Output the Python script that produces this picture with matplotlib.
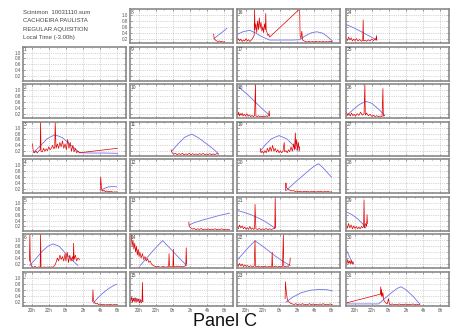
import matplotlib
matplotlib.use('Agg')
import matplotlib.pyplot as plt

# hours: 19 .. 31  (24 = 0h local)
xticks = [20, 22, 24, 26, 28, 30]
xlabels = ['20h', '22h', '0h', '2h', '4h', '6h']
yticks = [0.2, 0.4, 0.6, 0.8, 1.0]
header = ['Scintmon  10031110.sum', 'CACHOEIRA PAULISTA', 'REGULAR AQUISITION', 'Local Time (-3.00h)']

# ---- day 3
blue_t_3 = [20.2, 21.0, 21.8, 22.7, 23.6, 24.6, 25.6, 27.0, 28.5, 30.0]
blue_v_3 = [0.15, 0.38, 0.62, 0.76, 0.66, 0.40, 0.15, 0.14, 0.14, 0.13]
red_t_3 = [20.1, 20.2, 20.35, 20.5, 20.65, 20.8, 21.0, 21.05, 21.1, 21.25, 21.4, 21.55, 21.7, 21.85, 22.0,
           22.15, 22.3, 22.45, 22.6, 22.7, 22.75, 22.85, 23.0, 23.15, 23.3, 23.45, 23.6, 23.75, 23.9, 24.05,
           24.2, 24.35, 24.5, 24.65, 24.8, 24.95, 25.1, 25.25, 25.4, 25.6, 30.0]
red_v_3 = [0.45, 0.2, 0.15, 0.22, 0.14, 0.2, 0.25, 1.2, 0.2, 0.18, 0.3, 0.2, 0.28, 0.22, 0.35,
           0.25, 0.3, 0.4, 0.28, 0.35, 1.2, 0.3, 0.45, 0.3, 0.5, 0.35, 0.55, 0.3, 0.45, 0.25,
           0.6, 0.3, 0.5, 0.2, 0.4, 0.18, 0.3, 0.15, 0.2, 0.15, 0.3]
# ---- day 4
blue_t_4 = [28.1, 28.5, 29.0, 29.5, 29.9]
blue_v_4 = [0.15, 0.22, 0.27, 0.28, 0.27]
red_t_4 = [28.0, 28.05, 28.15, 28.3, 28.45, 28.6, 28.75, 28.9, 29.05, 29.2, 29.35, 29.5, 29.65, 29.8, 29.9]
red_v_4 = [0.15, 0.6, 0.2, 0.12, 0.15, 0.1, 0.13, 0.09, 0.12, 0.1, 0.11, 0.08, 0.1, 0.09, 0.1]
# ---- day 6
blue_t_6 = [19.8, 20.5, 21.2, 21.9, 22.5, 23.2, 23.9, 24.6, 25.4]
blue_v_6 = [0.15, 0.38, 0.62, 0.80, 0.88, 0.80, 0.58, 0.36, 0.15]
red_t_6 = [19.75, 19.8, 19.85, 20.0, 20.2, 20.4, 20.6, 20.8, 21.0, 21.05, 21.1, 21.3, 21.5, 21.7, 21.9,
           22.1, 22.3, 22.5, 22.7, 22.85, 23.0, 23.15, 23.3, 23.45, 23.6, 23.75, 23.9, 24.0, 24.15, 24.3,
           24.45, 24.6, 24.75, 24.85, 24.9, 24.95, 25.1, 25.25, 25.4, 25.6]
red_v_6 = [0.3, 1.2, 0.3, 0.12, 0.08, 0.12, 0.08, 0.1, 0.09, 1.2, 0.1, 0.08, 0.1, 0.08, 0.1,
           0.08, 0.1, 0.09, 0.15, 0.25, 0.4, 0.3, 0.5, 0.35, 0.45, 0.3, 0.55, 0.3, 0.6, 0.25,
           0.5, 0.3, 0.45, 0.3, 0.9, 0.35, 0.5, 0.3, 0.4, 0.35]
# ---- day 7
blue_t_7 = [27.2, 27.7, 28.2, 28.7, 29.2, 29.6, 29.9]
blue_v_7 = [0.15, 0.32, 0.46, 0.58, 0.68, 0.75, 0.78]
red_t_7 = [27.1, 27.15, 27.2, 27.35, 27.5, 27.65, 27.8, 28.0, 28.2, 28.4, 28.6, 28.8, 29.0, 29.2, 29.4, 29.6, 29.8, 29.95]
red_v_7 = [0.2, 0.6, 0.25, 0.15, 0.12, 0.14, 0.1, 0.12, 0.09, 0.11, 0.08, 0.1, 0.09, 0.11, 0.08, 0.1, 0.09, 0.1]
# ---- day 8
blue_t_8 = [28.8, 29.3, 29.8, 30.3]
blue_v_8 = [0.2, 0.32, 0.43, 0.55]
red_t_8 = [28.75, 28.8, 28.95, 29.1, 29.25, 29.4, 29.55, 29.7, 29.85, 30.0]
red_v_8 = [0.35, 0.2, 0.15, 0.12, 0.1, 0.12, 0.09, 0.1, 0.08, 0.1]
# ---- day 11
blue_t_11 = [23.85, 24.6, 25.4, 26.2, 27.0, 27.8, 28.6, 29.3]
blue_v_11 = [0.2, 0.45, 0.68, 0.78, 0.65, 0.48, 0.3, 0.12]
red_t_11 = [23.8, 23.9, 24.1, 24.3, 24.5, 24.7, 24.9, 25.1, 25.3, 25.5, 25.7, 25.9, 26.1, 26.3, 26.5, 26.7,
            26.9, 27.1, 27.3, 27.5, 27.7, 27.9, 28.1, 28.3, 28.5, 28.7, 28.9, 29.1, 29.3]
red_v_11 = [0.25, 0.15, 0.1, 0.13, 0.08, 0.12, 0.09, 0.13, 0.08, 0.11, 0.09, 0.13, 0.08, 0.12, 0.09, 0.11,
            0.08, 0.12, 0.09, 0.13, 0.08, 0.11, 0.09, 0.12, 0.08, 0.11, 0.09, 0.12, 0.1]
# ---- day 13
blue_t_13 = [25.9, 26.5, 27.5, 28.5, 29.5, 30.6]
blue_v_13 = [0.25, 0.33, 0.42, 0.5, 0.58, 0.65]
red_t_13 = [25.85, 25.9, 26.1, 26.3, 26.5, 26.7, 26.9, 27.1, 27.3, 27.5, 27.7, 27.9, 28.1, 28.3, 28.5,
            28.7, 28.9, 29.1, 29.3, 29.5, 29.7, 29.9, 30.1, 30.3, 30.6]
red_v_13 = [0.35, 0.2, 0.15, 0.11, 0.13, 0.09, 0.12, 0.1, 0.13, 0.09, 0.11, 0.1, 0.12, 0.09, 0.11,
            0.1, 0.12, 0.09, 0.11, 0.1, 0.12, 0.09, 0.11, 0.1, 0.1]
# ---- day 14
blue_t_14 = [20.2, 21.0, 21.9, 22.8, 23.7, 24.6, 25.6]
blue_v_14 = [0.15, 0.42, 0.72, 0.99, 0.72, 0.44, 0.15]
red_t_14 = [19.15, 19.25, 19.35, 19.45, 19.55, 19.65, 19.75, 19.85, 19.95, 20.05, 20.15, 20.3, 20.45, 20.6,
            20.75, 20.9, 21.05, 21.2, 21.35, 21.5, 21.7, 21.9, 22.1, 22.3, 22.5, 22.7, 22.9, 23.1, 23.3,
            23.5, 23.55, 23.6, 23.8, 24.0, 24.05, 24.1, 24.3, 24.5, 24.7, 24.9, 25.1, 25.3, 25.5, 25.55, 25.6]
red_v_14 = [1.2, 0.8, 1.0, 0.7, 0.9, 0.6, 0.8, 0.5, 0.7, 0.45, 0.6, 0.4, 0.55, 0.35,
            0.45, 0.3, 0.38, 0.25, 0.3, 0.2, 0.15, 0.12, 0.1, 0.12, 0.09, 0.1, 0.12, 0.09, 0.1,
            0.12, 0.55, 0.12, 0.1, 0.12, 0.7, 0.12, 0.1, 0.13, 0.1, 0.12, 0.1, 0.12, 0.14, 0.75, 0.2]
# ---- day 15
blue_t_15 = [19.0, 19.5, 20.0, 20.3, 20.5]
blue_v_15 = [0.3, 0.3, 0.28, 0.25, 0.2]
red_t_15 = [19.0, 19.1, 19.2, 19.3, 19.4, 19.5, 19.6, 19.7, 19.8, 19.9, 20.0, 20.1, 20.2, 20.3, 20.4, 20.45, 20.5]
red_v_15 = [0.3, 0.2, 0.35, 0.18, 0.3, 0.2, 0.33, 0.17, 0.3, 0.2, 0.28, 0.15, 0.25, 0.15, 0.2, 0.85, 0.2]
# ---- day 16
blue_t_16 = [19.0, 19.7, 20.5, 21.2, 22.0, 22.8, 24.0, 25.5, 26.3, 27.0, 27.7, 28.3, 29.0, 29.6, 30.1]
blue_v_16 = [0.34, 0.43, 0.48, 0.38, 0.25, 0.15, 0.15, 0.15, 0.16, 0.3, 0.4, 0.43, 0.38, 0.25, 0.12]
red_t_16 = [19.0, 19.15, 19.3, 19.45, 19.6, 19.75, 19.9, 20.05, 20.2, 20.35, 20.5, 20.65, 20.8, 21.0, 21.05,
            21.1, 21.2, 21.3, 21.4, 21.5, 21.6, 21.7, 21.8, 21.9, 22.0, 22.1, 22.2, 22.3, 22.35, 22.4, 22.5,
            22.6, 22.7, 22.8, 26.3, 26.35, 26.45, 26.55, 26.65, 26.8, 27.0, 27.2, 27.4, 27.6, 27.8, 28.0,
            28.2, 28.4, 28.6, 28.8, 29.0, 29.2, 29.4, 29.6, 29.8, 30.1]
red_v_16 = [0.15, 0.2, 0.12, 0.18, 0.1, 0.15, 0.12, 0.2, 0.12, 0.16, 0.1, 0.14, 0.2, 0.3, 1.2,
            0.5, 0.7, 0.4, 0.8, 0.5, 0.9, 0.55, 0.75, 0.45, 0.6, 0.4, 0.7, 0.5, 1.05, 0.5, 0.4,
            0.3, 0.35, 0.25, 1.2, 0.3, 0.2, 0.45, 0.15, 0.12, 0.1, 0.08, 0.11, 0.08, 0.1, 0.08,
            0.11, 0.08, 0.1, 0.08, 0.11, 0.08, 0.1, 0.08, 0.11, 0.09]
# ---- day 18
blue_t_18 = [19.1, 19.6, 20.1, 20.6, 21.1, 21.6, 22.1, 22.5, 22.8]
blue_v_18 = [1.12, 1.0, 0.88, 0.74, 0.6, 0.46, 0.32, 0.22, 0.15]
red_t_18 = [19.0, 19.1, 19.2, 19.3, 19.4, 19.5, 19.6, 19.7, 19.85, 20.0, 20.15, 20.3, 20.45, 20.6, 20.75,
            20.9, 21.05, 21.15, 21.2, 21.35, 21.5, 21.65, 21.8, 21.95, 22.1, 22.25, 22.4, 22.55, 22.7, 22.75, 22.8]
red_v_18 = [0.2, 0.15, 0.25, 0.12, 0.2, 0.15, 0.22, 0.12, 0.18, 0.12, 0.2, 0.11, 0.16, 0.1, 0.14,
            0.1, 0.13, 1.2, 0.12, 0.1, 0.13, 0.1, 0.12, 0.09, 0.12, 0.1, 0.13, 0.1, 0.15, 0.3, 0.12]
# ---- day 19
blue_t_19 = [21.7, 22.3, 23.0, 23.9, 24.8, 25.5, 26.1]
blue_v_19 = [0.2, 0.42, 0.62, 0.73, 0.62, 0.42, 0.2]
red_t_19 = [21.7, 21.8, 21.95, 22.1, 22.25, 22.4, 22.55, 22.7, 22.85, 23.0, 23.15, 23.3, 23.45, 23.6, 23.75,
            23.9, 24.05, 24.2, 24.35, 24.5, 24.55, 24.7, 24.85, 25.0, 25.15, 25.3, 25.45, 25.6, 25.7, 25.8,
            25.85, 25.95, 26.05, 26.15, 26.25, 26.3]
red_v_19 = [0.3, 0.15, 0.2, 0.13, 0.22, 0.15, 0.3, 0.18, 0.35, 0.2, 0.4, 0.2, 0.3, 0.17, 0.25,
            0.15, 0.22, 0.15, 0.2, 0.5, 0.18, 0.22, 0.15, 0.25, 0.18, 0.35, 0.2, 0.45, 0.25, 0.82,
            0.3, 0.6, 0.25, 0.5, 0.2, 0.35]
# ---- day 20
blue_t_20 = [24.7, 25.3, 26.0, 26.8, 27.6, 28.1, 28.5, 29.0, 29.5, 30.0]
blue_v_20 = [0.14, 0.3, 0.48, 0.68, 0.88, 0.99, 1.05, 0.92, 0.76, 0.6]
red_t_20 = [24.65, 24.7, 24.75, 24.9, 25.05, 25.2, 25.4, 25.6, 25.8, 26.0, 26.2, 26.4, 26.6, 26.8, 27.0,
            27.2, 27.4, 27.6, 27.8, 28.0, 28.2, 28.4, 28.6, 28.8, 29.0, 29.2, 29.4, 29.6, 29.8, 30.0]
red_v_20 = [0.15, 0.4, 0.25, 0.2, 0.17, 0.15, 0.13, 0.14, 0.11, 0.13, 0.1, 0.12, 0.09, 0.12, 0.1,
            0.12, 0.09, 0.11, 0.1, 0.12, 0.09, 0.11, 0.1, 0.12, 0.09, 0.11, 0.1, 0.12, 0.09, 0.1]
# ---- day 21
blue_t_21 = [19.0, 19.8, 20.6, 21.4, 22.2, 22.9, 23.4]
blue_v_21 = [0.74, 0.68, 0.6, 0.5, 0.38, 0.25, 0.15]
red_t_21 = [19.0, 19.15, 19.3, 19.45, 19.6, 19.75, 19.9, 20.05, 20.2, 20.35, 20.5, 20.65, 20.8, 20.95, 21.05,
            21.1, 21.2, 21.4, 21.6, 21.8, 22.0, 22.2, 22.4, 22.6, 22.8, 23.0, 23.2, 23.4, 23.45, 23.5]
red_v_21 = [0.2, 0.12, 0.25, 0.15, 0.22, 0.12, 0.18, 0.11, 0.16, 0.1, 0.2, 0.1, 0.15, 0.1, 0.13,
            0.95, 0.12, 0.1, 0.13, 0.09, 0.12, 0.1, 0.13, 0.09, 0.12, 0.1, 0.12, 0.13, 1.2, 0.15]
# ---- day 22
blue_t_22 = [19.0, 19.7, 20.4, 21.1, 21.9, 22.7, 23.5, 24.4, 25.2]
blue_v_22 = [0.33, 0.55, 0.78, 0.98, 0.82, 0.64, 0.46, 0.28, 0.15]
red_t_22 = [19.0, 19.15, 19.3, 19.45, 19.6, 19.75, 19.9, 20.05, 20.2, 20.4, 20.6, 20.8, 21.0, 21.1, 21.15,
            21.3, 21.5, 21.7, 21.9, 22.1, 22.3, 22.5, 22.7, 22.9, 23.05, 23.1, 23.15, 23.3, 23.5, 23.7,
            23.9, 24.1, 24.3, 24.4, 24.45, 24.6, 24.8, 25.0, 25.15, 25.2]
red_v_22 = [0.2, 0.12, 0.22, 0.13, 0.2, 0.11, 0.17, 0.12, 0.15, 0.1, 0.14, 0.1, 0.13, 1.0, 0.12,
            0.1, 0.13, 0.09, 0.12, 0.1, 0.13, 0.09, 0.12, 0.1, 0.12, 0.6, 0.11, 0.1, 0.13, 0.09,
            0.12, 0.1, 0.12, 1.2, 0.12, 0.1, 0.13, 0.12, 0.2, 0.4]
# ---- day 23
blue_t_23 = [24.7, 25.5, 26.5, 27.5, 28.5, 29.5, 30.1]
blue_v_23 = [0.18, 0.35, 0.5, 0.58, 0.61, 0.6, 0.56]
red_t_23 = [24.6, 24.65, 24.75, 24.85, 24.95, 25.1, 25.25, 25.45, 25.65, 25.85, 26.05, 26.25, 26.45, 26.65,
            26.85, 27.05, 27.25, 27.45, 27.65, 27.85, 28.05, 28.25, 28.45, 28.65, 28.85, 29.05, 29.25,
            29.45, 29.65, 29.85, 30.1]
red_v_23 = [0.3, 0.87, 0.5, 0.3, 0.2, 0.18, 0.14, 0.12, 0.1, 0.13, 0.09, 0.12, 0.1, 0.13,
            0.09, 0.11, 0.1, 0.13, 0.09, 0.12, 0.1, 0.11, 0.08, 0.12, 0.1, 0.13, 0.09, 0.11, 0.1, 0.12, 0.1]
# ---- day 24
blue_t_24 = [19.0, 20.0, 21.0, 22.0, 22.5]
blue_v_24 = [0.68, 0.55, 0.4, 0.24, 0.15]
red_t_24 = [19.0, 19.15, 19.3, 19.45, 19.6, 19.75, 19.9, 20.05, 20.2, 20.4, 20.6, 20.8, 20.95, 21.0, 21.05,
            21.2, 21.4, 21.6, 21.8, 22.0, 22.2, 22.4, 22.5, 22.55, 22.6]
red_v_24 = [0.2, 0.13, 0.25, 0.15, 0.22, 0.12, 0.18, 0.13, 0.2, 0.12, 0.17, 0.11, 0.15, 0.83, 0.12,
            0.14, 0.11, 0.16, 0.12, 0.18, 0.13, 0.2, 0.15, 0.3, 0.15]
# ---- day 26
blue_t_26 = [19.1, 19.7, 20.5, 21.3, 22.0, 22.8, 23.5]
blue_v_26 = [0.15, 0.3, 0.5, 0.62, 0.55, 0.35, 0.15]
red_t_26 = [19.05, 19.2, 19.35, 19.5, 19.65, 19.8, 19.95, 20.1, 20.3, 20.5, 20.7, 20.9, 21.1, 21.2, 21.25,
            21.4, 21.6, 21.8, 22.0, 22.2, 22.4, 22.6, 22.8, 23.0, 23.2, 23.3, 23.35, 23.5]
red_v_26 = [0.25, 0.14, 0.2, 0.12, 0.22, 0.13, 0.18, 0.12, 0.2, 0.14, 0.25, 0.15, 0.2, 1.2, 0.15,
            0.22, 0.13, 0.18, 0.11, 0.15, 0.1, 0.13, 0.1, 0.12, 0.1, 1.05, 0.12, 0.13]
# ---- day 29
blue_t_29 = [19.0, 19.7, 20.4, 21.0, 21.3]
blue_v_29 = [0.7, 0.6, 0.45, 0.27, 0.15]
red_t_29 = [19.0, 19.15, 19.3, 19.45, 19.6, 19.75, 19.9, 20.05, 20.2, 20.35, 20.5, 20.65, 20.8, 20.95, 21.05,
            21.1, 21.15, 21.3, 21.4, 21.45, 21.5]
red_v_29 = [0.25, 0.14, 0.3, 0.15, 0.25, 0.12, 0.22, 0.13, 0.2, 0.12, 0.18, 0.12, 0.2, 0.15, 0.2,
            1.1, 0.15, 0.3, 0.2, 0.6, 0.3]
# ---- day 30
blue_t_30 = [19.0, 19.4, 19.8]
blue_v_30 = [0.7, 0.45, 0.2]
red_t_30 = [19.0, 19.1, 19.2, 19.3, 19.4, 19.5, 19.6, 19.7, 19.8, 19.9]
red_v_30 = [0.3, 0.2, 0.35, 0.22, 0.3, 0.2, 0.33, 0.2, 0.28, 0.2]
# ---- day 31
blue_t_31 = [19.0, 21.0, 22.8, 23.5, 24.3, 25.0, 25.4, 26.0, 26.8, 27.6]
blue_v_31 = [0.12, 0.12, 0.12, 0.3, 0.5, 0.65, 0.7, 0.6, 0.38, 0.12]
red_t_31 = [19.0, 23.0, 23.05, 23.1, 23.15, 23.2, 23.3, 23.4, 23.5, 23.65, 23.8, 23.95, 24.05, 24.2, 24.4,
            24.6, 24.8, 25.0, 25.2, 25.4, 25.6, 25.8, 26.0, 26.2, 26.4, 26.6, 26.8, 27.0, 27.2, 27.4, 27.6]
red_v_31 = [0.15, 0.45, 0.7, 0.4, 0.6, 0.35, 0.5, 0.25, 0.2, 0.15, 0.12, 0.3, 0.12, 0.1, 0.12,
            0.09, 0.11, 0.1, 0.12, 0.09, 0.11, 0.1, 0.12, 0.09, 0.11, 0.1, 0.12, 0.09, 0.11, 0.1, 0.1]

W, H = 450, 331
fig = plt.figure(figsize=(W / 100, H / 100), dpi=100)
plt.rcParams['font.family'] = ['Liberation Sans', 'DejaVu Sans']

col_left = [23, 130, 237, 346]
row_top = [9, 46.6, 84.1, 121.7, 159.3, 196.9, 234.4, 272]
pw, ph = 103, 34

for day in range(1, 32):
    if day <= 7:
        col, row = 0, day
    else:
        col, row = (day - 8) // 8 + 1, (day - 8) % 8
    x0 = col_left[col] / W
    y0 = 1 - (row_top[row] + ph) / H
    ax = fig.add_axes([x0, y0, pw / W, ph / H])
    ax.set_xlim(19, 31)
    ax.set_ylim(0.05, 1.2)
    ax.set_xticks(xticks)
    ax.set_xticks(range(19, 32), minor=True)
    ax.set_yticks(yticks)
    ax.grid(True, which='major', color='#b0b0b0', linestyle=':', linewidth=0.5)
    ax.tick_params(which='both', direction='in', top=True, right=True, length=1.5, width=0.4,
                   labelsize=3.3, pad=1.5, colors='#555555')
    ax.tick_params(which='minor', length=1)
    if row == 7:
        ax.set_xticklabels(xlabels)
    else:
        ax.set_xticklabels([])
    if col == 0 or (col == 1 and row == 0):
        ax.set_yticklabels(['0.2', '0.4', '0.6', '0.8', '1.0'])
    else:
        ax.set_yticklabels([])
    for s in ax.spines.values():
        s.set_color('#8a8a8a')
        s.set_linewidth(1.2)
    ax.text(0.01, 0.98, str(day), transform=ax.transAxes, ha='left', va='top', fontsize=3.5, color='#444444')
    bt = globals().get('blue_t_%d' % day)
    if bt is not None:
        ax.plot(bt, globals()['blue_v_%d' % day], color='#7272e6', linewidth=0.6)
        ax.plot(globals()['red_t_%d' % day], globals()['red_v_%d' % day], color='#e00000', linewidth=0.5)

for i, line in enumerate(header):
    fig.text(23 / W, 1 - (13 + i * 8) / H, line, fontsize=4.3, color='#444444', va='center', ha='left')

fig.text(0.5, 1 - 322 / H, 'Panel C', fontsize=13, ha='center', va='center', color='#111111')

fig.savefig('out.png', dpi=100)
